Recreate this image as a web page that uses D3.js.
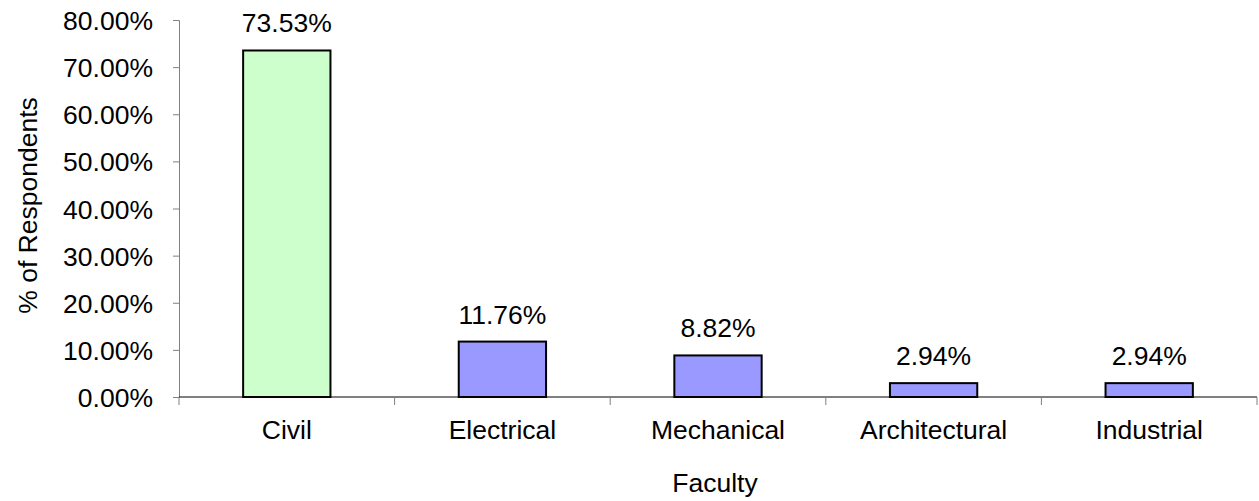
<!DOCTYPE html>
<html>
<head>
<meta charset="utf-8">
<script src="https://cdn.jsdelivr.net/npm/d3@7"></script>
<style>
  html, body { margin: 0; padding: 0; background: #fff; }
  svg text { font-family: "Liberation Sans", Arial, sans-serif; fill: #000; }
</style>
</head>
<body>
<svg id="chart" width="1259" height="501"></svg>
<script>
const categories = ["Civil", "Electrical", "Mechanical", "Architectural", "Industrial"];
const values = [73.53, 11.76, 8.82, 2.94, 2.94];
const barColors = ["#CCFFCC", "#9999FF", "#9999FF", "#9999FF", "#9999FF"];
const yTicks = [0, 10, 20, 30, 40, 50, 60, 70, 80];

const FS = 26.5;

const svg = d3.select("#chart");
const margin = { left: 179, right: 2, top: 20, bottom: 104 };
const W = 1259, H = 501;

const x = d3.scaleBand().domain(categories).range([margin.left, W - margin.right]).paddingInner(0).paddingOuter(0);
const y = d3.scaleLinear().domain([0, 80]).range([H - margin.bottom, margin.top]);

// bars
const bw = x.bandwidth() * 0.405;
svg.selectAll("rect.bar").data(categories).enter().append("rect")
  .attr("class", "bar")
  .attr("x", d => x(d) + x.bandwidth() / 2 - bw / 2)
  .attr("y", (d, i) => y(values[i]))
  .attr("width", bw)
  .attr("height", (d, i) => y(0) - y(values[i]))
  .attr("fill", (d, i) => barColors[i])
  .attr("stroke", "#000")
  .attr("stroke-width", 2);

// value labels
svg.selectAll("text.val").data(categories).enter().append("text")
  .attr("class", "val")
  .attr("x", d => x(d) + x.bandwidth() / 2)
  .attr("y", (d, i) => y(values[i]) - 18)
  .attr("text-anchor", "middle")
  .attr("font-size", FS)
  .text((d, i) => values[i].toFixed(2) + "%");

// y axis
const yAxis = d3.axisLeft(y).tickValues(yTicks).tickSize(6).tickPadding(20)
  .tickFormat(d => d.toFixed(2) + "%");
const gy = svg.append("g").attr("transform", `translate(${margin.left},0)`).call(yAxis);
gy.attr("font-size", null).attr("font-family", null);
gy.select(".domain").attr("stroke", "#808080").attr("stroke-width", 1);
gy.selectAll(".tick line").attr("stroke", "#808080");
gy.selectAll(".tick text")
  .attr("font-size", FS)
  .attr("fill", "#000")
  .attr("dy", "0.36em");

// x axis
const gx = svg.append("g").attr("transform", `translate(0,${y(0)})`);
gx.append("line").attr("x1", margin.left).attr("x2", W - margin.right).attr("y1", 0).attr("y2", 0)
  .attr("stroke", "#000").attr("stroke-width", 1);
const boundaries = categories.map(c => x(c)).concat([x(categories[categories.length - 1]) + x.bandwidth()]);
gx.selectAll("line.xt").data(boundaries).enter().append("line")
  .attr("class", "xt")
  .attr("x1", d => d).attr("x2", d => d).attr("y1", 0).attr("y2", 8)
  .attr("stroke", "#808080");
gx.selectAll("text.cat").data(categories).enter().append("text")
  .attr("class", "cat")
  .attr("x", d => x(d) + x.bandwidth() / 2)
  .attr("y", 42)
  .attr("text-anchor", "middle")
  .attr("font-size", FS)
  .text(d => d);

// axis titles
svg.append("text")
  .attr("x", x.range()[0] + (x.range()[1] - x.range()[0]) / 2 - 3)
  .attr("y", 492)
  .attr("text-anchor", "middle")
  .attr("font-size", FS)
  .text("Faculty");

svg.append("text")
  .attr("transform", `translate(37,${(y(0) + y(80)) / 2 - 3}) rotate(-90)`)
  .attr("text-anchor", "middle")
  .attr("font-size", FS)
  .text("% of Respondents");
</script>
</body>
</html>
